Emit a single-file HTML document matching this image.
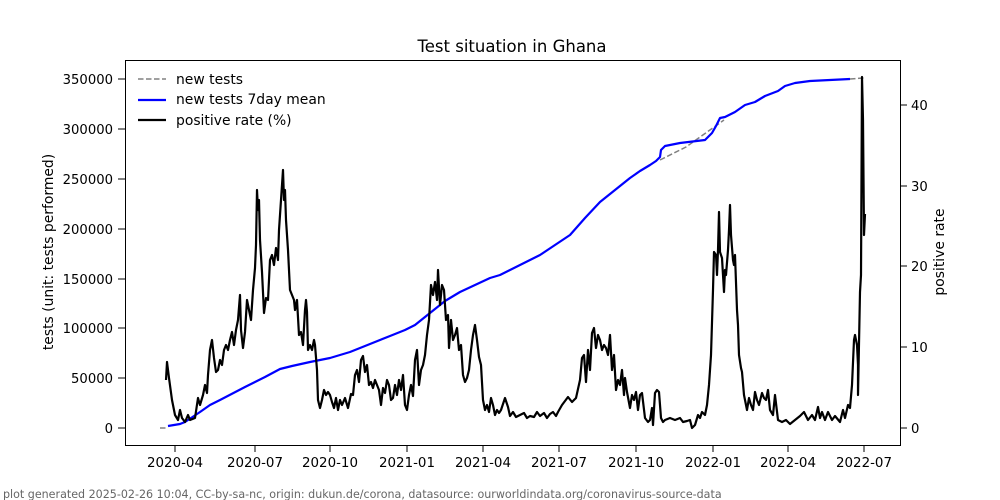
<!DOCTYPE html><html><head><meta charset="utf-8"><style>body{margin:0;background:#fff}svg{display:block;font-family:"DejaVu Sans","Liberation Sans",sans-serif}</style></head><body>
<svg width="1000" height="500" viewBox="0 0 1000 500">
<rect width="1000" height="500" fill="#fff"/>
<text x="512" y="52" font-size="16.5" text-anchor="middle">Test situation in Ghana</text>
<g font-size="13.2" text-anchor="end">
<text x="113" y="433">0</text><text x="113" y="383">50000</text><text x="113" y="333">100000</text><text x="113" y="284">150000</text><text x="113" y="234">200000</text><text x="113" y="184">250000</text><text x="113" y="134">300000</text><text x="113" y="84">350000</text>
</g>
<g stroke="#000"><line x1="118" y1="428" x2="125" y2="428"/><line x1="118" y1="378" x2="125" y2="378"/><line x1="118" y1="328" x2="125" y2="328"/><line x1="118" y1="279" x2="125" y2="279"/><line x1="118" y1="229" x2="125" y2="229"/><line x1="118" y1="179" x2="125" y2="179"/><line x1="118" y1="129" x2="125" y2="129"/><line x1="118" y1="79" x2="125" y2="79"/>
<line x1="900" y1="428" x2="907" y2="428"/><line x1="900" y1="347" x2="907" y2="347"/><line x1="900" y1="266" x2="907" y2="266"/><line x1="900" y1="186" x2="907" y2="186"/><line x1="900" y1="105" x2="907" y2="105"/>
<line x1="175" y1="445" x2="175" y2="452"/><line x1="255" y1="445" x2="255" y2="452"/><line x1="330" y1="445" x2="330" y2="452"/><line x1="407" y1="445" x2="407" y2="452"/><line x1="483" y1="445" x2="483" y2="452"/><line x1="559" y1="445" x2="559" y2="452"/><line x1="636" y1="445" x2="636" y2="452"/><line x1="713" y1="445" x2="713" y2="452"/><line x1="788" y1="445" x2="788" y2="452"/><line x1="864" y1="445" x2="864" y2="452"/></g>
<g font-size="13.2"><text x="911" y="433">0</text><text x="911" y="352">10</text><text x="911" y="271">20</text><text x="911" y="191">30</text><text x="911" y="110">40</text></g>
<g font-size="13.4" text-anchor="middle"><text x="175" y="467">2020-04</text><text x="255" y="467">2020-07</text><text x="330" y="467">2020-10</text><text x="407" y="467">2021-01</text><text x="483" y="467">2021-04</text><text x="559" y="467">2021-07</text><text x="636" y="467">2021-10</text><text x="713" y="467">2022-01</text><text x="788" y="467">2022-04</text><text x="864" y="467">2022-07</text></g>
<text transform="translate(53,252) rotate(-90)" font-size="13.9" text-anchor="middle">tests (unit: tests performed)</text>
<text transform="translate(944,252) rotate(-90)" font-size="13.9" text-anchor="middle">positive rate</text>
<g fill="none" stroke-linejoin="round">
<polyline stroke="#808080" stroke-width="1.5" stroke-dasharray="5.5,2.5" points="160,428 168,428"/>
<polyline stroke="#808080" stroke-width="1.5" stroke-dasharray="5.5,2.5" points="660,160 686,147 724,120"/>
<polyline stroke="#808080" stroke-width="1.5" stroke-dasharray="5.5,2.5" points="850,79 864,78"/>
<polyline stroke="#0000ff" stroke-width="2.2" points="168,426 180,424 185,422 200,412 210,405 220,400 245,387 265,377 280,369 292,366 310,362 330,358 350,352 370,344 390,336 405,330 415,325 430,313 445,301 460,292 475,285 490,278 500,275 520,265 540,255 555,245 570,235 585,218 600,202 615,190 630,178 640,171 650,165 656,161 660,157 661,150 665,146 680,143 705,140 712,133 716,126 720,118 725,117 735,112 745,105 755,102 760,99 765,96 778,91 785,86 795,83 810,81 850,79"/>
<polyline stroke="#000" stroke-width="2.2" points="166,380 167,362 169,378 172,400 175,415 178,420 180,410 182,418 185,422 188,415 190,420 195,418 198,398 200,405 203,395 205,385 207,393 208,375 210,350 212,340 214,358 216,372 218,370 220,360 222,365 224,350 226,345 228,350 230,340 232,332 234,345 236,330 238,320 240,295 241,330 243,348 245,332 247,300 249,310 251,320 253,290 255,268 256,245 257,190 258,210 259,200 260,240 262,272 264,313 266,298 268,300 270,260 272,255 274,265 276,248 278,260 279,230 281,200 283,170 284,200 285,190 286,220 288,250 290,290 292,295 294,300 295,310 297,300 299,335 301,332 303,345 305,310 306,300 307,312 308,350 310,345 312,350 314,340 315,345 317,370 318,400 320,408 322,400 324,390 326,395 328,392 330,395 332,402 334,408 336,398 338,410 340,400 342,405 345,398 348,408 351,394 353,395 355,375 357,370 359,382 361,360 363,356 365,372 367,365 369,385 371,382 373,388 375,380 377,385 379,390 381,405 383,388 385,393 387,380 389,385 391,400 393,398 395,385 397,395 399,380 401,390 403,375 405,405 407,410 409,395 411,385 413,396 415,360 417,350 419,385 421,370 423,365 425,355 427,335 429,320 431,285 433,295 435,282 437,300 438,270 440,305 442,285 444,290 446,320 448,315 449,348 451,320 453,340 455,335 457,328 459,350 461,345 463,375 465,382 467,378 469,370 471,350 473,335 475,325 477,340 479,357 481,365 483,400 485,410 487,405 489,412 491,398 493,405 495,415 497,410 499,413 501,410 505,398 508,407 510,416 513,412 516,417 520,415 524,413 527,418 530,416 534,417 537,412 540,416 544,413 547,418 550,414 553,412 556,416 558,412 562,405 568,397 572,402 576,398 580,380 582,358 584,355 586,382 588,350 590,370 592,333 594,328 596,348 598,335 600,340 602,350 604,345 606,348 608,355 610,335 612,370 614,355 616,390 618,380 620,385 622,370 624,395 625,378 627,392 630,408 632,395 634,400 636,392 638,410 640,395 642,393 645,418 648,422 650,420 652,408 653,425 655,393 657,390 659,392 661,418 663,422 665,420 670,418 675,420 680,418 683,422 687,421 690,420 692,428 695,425 698,415 700,418 702,412 705,415 707,405 709,385 711,355 713,290 714,252 716,255 717,275 718,250 719,212 720,252 722,258 724,292 725,270 726,275 728,250 729,230 730,205 731,235 733,260 734,265 735,255 737,310 738,325 739,355 741,368 742,372 744,395 747,410 749,398 751,405 753,410 755,392 757,400 759,405 762,393 764,398 766,400 768,390 770,410 773,415 775,395 778,420 782,422 786,420 790,424 795,420 800,416 804,412 808,420 812,415 815,420 818,407 820,418 822,412 825,420 828,412 832,420 835,416 840,422 843,410 845,418 848,405 850,408 852,385 854,340 855,335 857,345 858,365 858,395 860,292 861,275 862,77 863,120 864,235 865,214"/>
</g>
<rect x="125.5" y="60.5" width="775" height="385" fill="none" stroke="#000" stroke-width="1"/>
<g font-size="13.9">
<line x1="138" y1="79" x2="166" y2="79" stroke="#808080" stroke-width="1.5" stroke-dasharray="5.5,2.5"/><text x="176" y="84">new tests</text>
<line x1="138" y1="100" x2="166" y2="100" stroke="#0000ff" stroke-width="2.2"/><text x="176" y="104">new tests 7day mean</text>
<line x1="138" y1="120" x2="166" y2="120" stroke="#000" stroke-width="2.2"/><text x="176" y="125">positive rate (%)</text>
</g>
<text x="3" y="498" font-size="11.1" fill="#666">plot generated 2025-02-26 10:04, CC-by-sa-nc, origin: dukun.de/corona, datasource: ourworldindata.org/coronavirus-source-data</text>
</svg></body></html>
